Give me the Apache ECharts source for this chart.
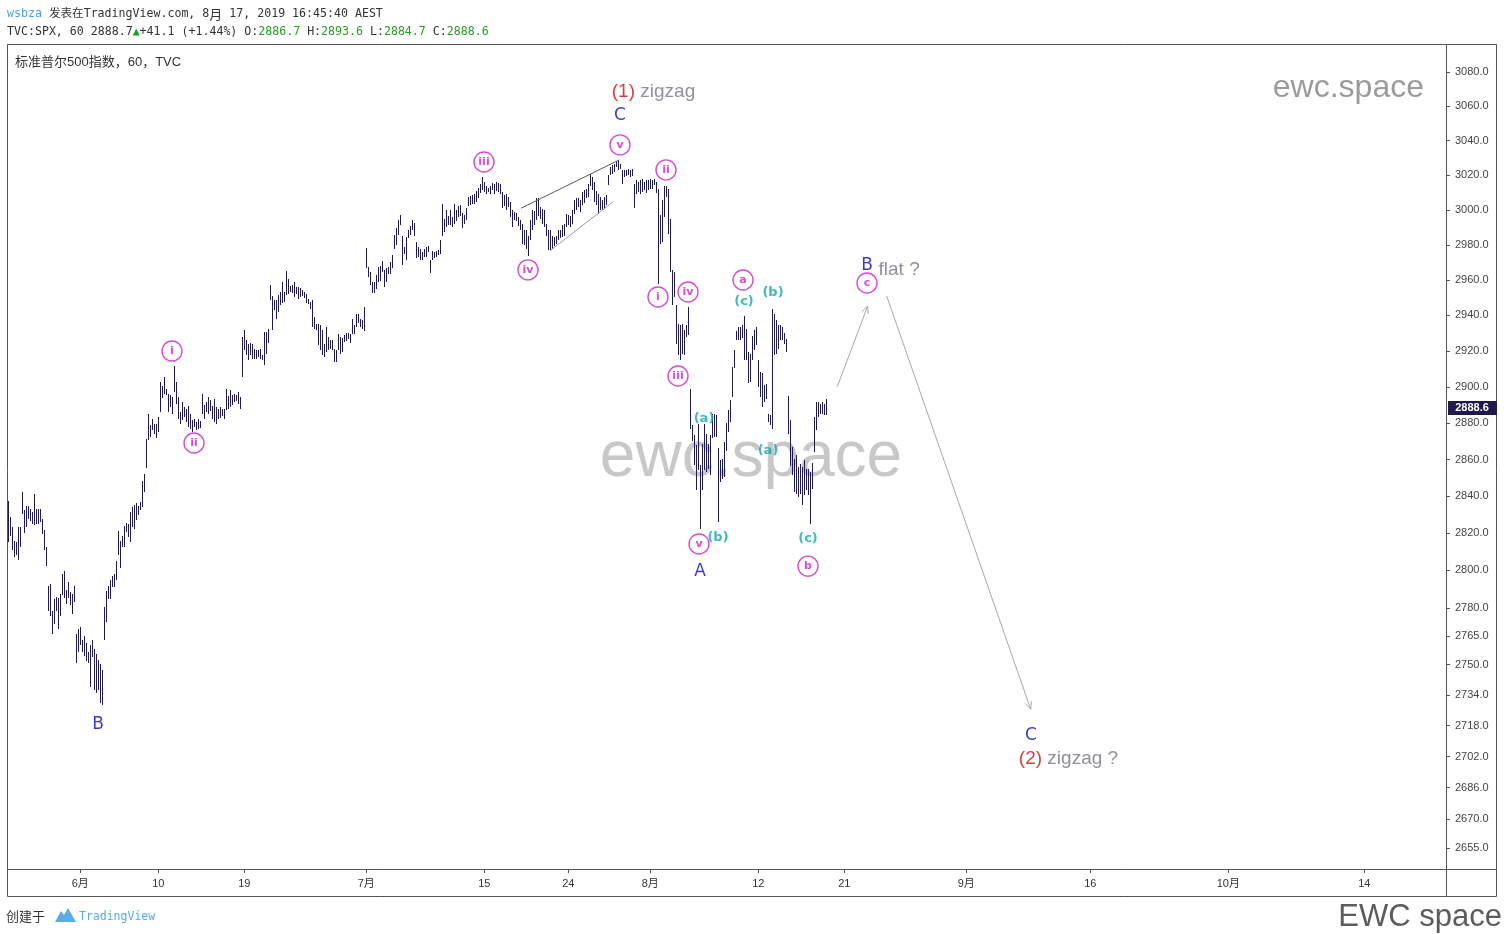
<!DOCTYPE html>
<html><head><meta charset="utf-8">
<script src="https://cdn.jsdelivr.net/npm/echarts@6/dist/echarts.min.js"></script>
<style>html,body{margin:0;padding:0;background:#fff;}#c{width:1504px;height:934px;}</style>
</head><body><div id="c"></div>
<script>
// ---- hourly S&P 500 bars (high / low), one per trading hour ----
const barHigh = [
2837.4,2828.8,2823.3,2815.8,2815.3,2823.3,2823.3,2842.1,2832.4,2834.6,
2834.6,2833.3,2831.5,2841.0,2833.3,2833.3,2833.3,2827.9,2821.5,2812.3,
2791.5,2792.5,2778.3,2784.9,2785.8,2785.4,2787.5,2798.2,2799.5,2789.3,
2793.6,2788.4,2787.2,2791.5,2766.3,2769.0,2769.8,2762.8,2764.9,2761.1,
2756.4,2760.2,2763.2,2758.4,2755.8,2752.6,2750.1,2747.0,2780.5,2788.9,
2791.5,2795.1,2796.8,2797.9,2805.0,2821.1,2815.8,2818.3,2823.7,2825.5,
2824.7,2831.5,2834.2,2835.1,2836.3,2834.6,2836.9,2848.3,2852.3,2871.5,
2885.3,2878.8,2882.5,2879.8,2879.8,2883.4,2902.8,2900.4,2905.6,2899.1,
2896.3,2895.4,2894.5,2911.5,2902.8,2894.5,2886.2,2891.7,2888.9,2888.0,
2889.3,2885.3,2881.6,2882.5,2880.7,2882.5,2881.2,2896.3,2889.9,2891.7,
2894.5,2892.6,2889.3,2893.5,2888.9,2888.0,2888.9,2888.0,2888.0,2899.1,
2894.8,2898.2,2895.4,2896.3,2895.4,2897.3,2894.5,2927.8,2931.6,2926.0,
2924.1,2924.5,2924.1,2921.3,2920.4,2920.8,2921.3,2917.6,2930.7,2930.7,
2932.6,2956.9,2950.8,2948.5,2948.5,2951.4,2953.2,2958.9,2953.2,2965.0,
2960.8,2956.4,2956.9,2958.9,2956.0,2956.0,2955.7,2954.2,2953.2,2951.9,
2949.4,2947.6,2948.5,2939.1,2935.3,2935.3,2934.4,2931.6,2924.1,2933.5,
2927.8,2926.0,2926.4,2921.3,2920.4,2929.3,2927.8,2927.5,2928.8,2930.1,
2930.1,2929.7,2938.2,2934.4,2941.0,2940.6,2938.2,2937.2,2944.7,2978.4,
2967.4,2964.6,2958.9,2958.9,2962.7,2967.4,2967.8,2970.6,2965.5,2966.5,
2967.4,2970.2,2974.0,2985.5,2989.3,2994.0,2996.8,2984.9,2979.0,2984.5,
2988.3,2990.6,2994.4,2992.5,2981.6,2979.0,2977.3,2976.0,2977.8,2979.0,
2979.3,2971.6,2976.5,2976.0,2976.5,2976.9,2982.6,3003.5,2995.0,2999.7,
2996.3,2999.7,2995.6,3003.1,2999.7,3002.0,3002.6,2998.2,2996.8,3001.3,
3007.4,3007.7,3008.3,3008.9,3010.8,3012.7,3015.1,3018.9,3016.0,3013.5,
3012.7,3013.9,3015.4,3015.1,3016.0,3015.4,3015.1,3010.3,3008.3,3008.9,
3007.4,3004.5,2999.7,2998.8,2998.2,2995.9,2994.0,2992.1,2988.3,2988.3,
2984.9,2994.0,2999.7,2999.3,3006.5,3006.5,3001.7,3000.7,3000.1,2992.1,
2988.7,2988.3,2984.9,2984.5,2984.9,2988.3,2988.7,2991.1,2991.7,2997.8,
2996.8,2996.3,2999.7,3005.5,3006.5,3006.5,3005.5,3010.3,3011.2,3012.2,
3015.1,3020.8,3018.9,3016.0,3010.8,3009.3,3007.4,3005.5,3007.4,3008.3,
3019.9,3024.6,3025.6,3026.6,3028.1,3028.9,3026.6,3022.8,3023.2,3023.2,
3023.7,3023.2,3023.7,3015.1,3017.4,3016.0,3017.0,3018.0,3016.0,3017.4,
3017.0,3018.0,3017.0,3018.0,3016.0,3012.2,2996.8,3005.5,3013.9,3013.5,
3012.2,2995.0,2965.5,2964.6,2945.7,2935.3,2934.4,2935.3,2931.6,2934.4,
2944.7,2899.1,2878.8,2873.3,2867.9,2879.8,2856.9,2868.8,2879.8,2874.3,
2868.8,2873.3,2885.3,2884.9,2884.3,2866.2,2859.6,2860.5,2869.7,2880.2,
2887.5,2892.6,2911.1,2920.8,2931.0,2933.5,2933.5,2934.4,2939.5,2932.6,
2919.4,2918.5,2928.2,2931.6,2933.5,2914.9,2908.4,2907.5,2900.9,2901.8,
2885.3,2884.3,2943.8,2941.0,2937.2,2934.4,2934.4,2933.5,2930.1,2927.0,
2894.8,2882.0,2866.9,2860.5,2862.4,2855.9,2857.4,2855.9,2859.6,2855.0,
2855.0,2853.2,2858.1,2883.4,2891.7,2891.7,2890.8,2891.7,2890.8,2893.6
];
const barLow = [
2815.3,2818.4,2810.8,2807.2,2808.1,2805.8,2812.6,2830.6,2820.1,2823.3,
2827.9,2826.6,2824.8,2824.3,2825.2,2824.8,2826.1,2819.7,2811.2,2802.2,
2778.3,2775.5,2766.0,2771.6,2778.3,2769.0,2775.5,2786.7,2785.4,2782.2,
2785.4,2781.3,2776.6,2783.1,2750.8,2756.6,2760.2,2756.6,2754.3,2751.8,
2750.8,2738.2,2753.9,2736.5,2735.1,2736.5,2729.8,2728.6,2762.8,2772.5,
2784.9,2784.9,2791.1,2791.1,2795.1,2808.1,2801.5,2812.3,2812.6,2820.6,
2818.0,2815.3,2823.3,2822.4,2827.0,2829.7,2832.4,2834.2,2842.3,2855.2,
2870.6,2872.3,2876.1,2874.3,2872.1,2875.2,2886.2,2894.1,2896.3,2895.4,
2886.2,2888.9,2885.3,2897.3,2890.8,2882.5,2879.4,2881.6,2883.4,2880.7,
2877.9,2877.0,2875.2,2877.9,2876.1,2877.0,2877.4,2884.9,2882.5,2886.2,
2885.3,2886.7,2882.5,2880.5,2879.8,2882.5,2883.0,2883.8,2882.5,2887.1,
2888.0,2888.9,2889.9,2891.7,2892.2,2890.8,2888.0,2905.6,2920.4,2917.6,
2914.9,2917.6,2915.8,2915.8,2915.8,2916.7,2915.8,2914.9,2912.1,2918.5,
2924.5,2948.5,2932.0,2942.9,2938.2,2941.9,2945.7,2947.0,2947.6,2951.4,
2952.3,2953.2,2952.7,2950.5,2952.3,2949.4,2950.5,2950.8,2950.0,2947.0,
2946.2,2943.8,2933.5,2932.6,2931.6,2923.2,2920.4,2917.6,2916.7,2919.4,
2920.4,2921.3,2920.4,2913.9,2913.9,2920.4,2918.5,2919.4,2925.1,2925.6,
2927.0,2924.5,2929.7,2929.7,2933.5,2935.7,2933.5,2932.6,2931.2,2966.5,
2961.7,2956.9,2952.7,2952.7,2955.1,2958.9,2959.4,2964.6,2956.0,2958.9,
2963.6,2963.6,2966.5,2977.8,2979.8,2985.5,2991.1,2968.4,2974.6,2971.6,
2983.6,2985.5,2988.3,2984.9,2972.2,2973.1,2971.6,2971.6,2973.1,2973.1,
2976.0,2963.9,2971.2,2972.2,2973.1,2974.0,2974.6,2984.9,2987.3,2990.2,
2991.1,2991.1,2990.2,2992.1,2993.6,2995.6,2996.3,2989.3,2992.1,2994.4,
3002.0,3002.6,3003.1,3003.5,3004.5,3006.5,3009.7,3011.2,3010.3,3009.3,
3010.3,3009.3,3011.6,3009.3,3010.8,3010.3,3009.3,3001.3,3002.0,2999.7,
3001.7,2995.6,2990.2,2994.4,2993.6,2990.6,2988.3,2980.7,2979.8,2977.3,
2973.5,2982.6,2988.7,2991.1,2994.0,2996.3,2995.0,2992.1,2990.2,2984.9,
2976.9,2976.9,2977.8,2979.3,2980.7,2982.6,2983.6,2984.5,2984.9,2990.2,
2991.1,2990.2,2992.1,2997.8,2999.7,3001.7,2998.8,3002.6,3004.0,3006.5,
3007.4,3013.5,3011.2,3004.5,3002.6,2997.8,2999.7,2999.7,3000.7,3002.6,
3014.1,3019.9,3020.8,3021.7,3024.6,3022.8,3023.7,3015.1,3018.9,3019.3,
3019.9,3018.9,3019.3,3001.3,3009.3,3010.3,3009.3,3010.3,3011.6,3009.7,
3011.6,3012.2,3012.2,3014.1,3009.7,2957.9,2980.7,2981.6,2995.9,3007.4,
2986.4,2964.6,2945.7,2950.5,2924.1,2917.6,2914.9,2918.1,2917.6,2927.8,
2928.8,2877.0,2870.0,2856.9,2843.2,2854.1,2822.4,2843.2,2854.1,2853.2,
2855.0,2851.4,2872.1,2872.4,2872.4,2826.1,2847.8,2849.6,2850.5,2864.7,
2875.2,2880.7,2894.5,2910.8,2926.0,2926.0,2926.0,2927.5,2914.9,2914.9,
2902.0,2902.8,2914.9,2920.8,2923.2,2900.1,2894.5,2888.9,2891.7,2893.5,
2880.7,2878.8,2877.0,2917.6,2918.5,2921.3,2926.0,2926.4,2924.1,2919.2,
2874.3,2856.3,2851.4,2842.3,2841.4,2839.6,2841.4,2835.1,2840.5,2843.2,
2840.5,2825.2,2844.2,2864.2,2876.1,2883.4,2885.3,2885.3,2884.3,2884.7
];
const lastClose = 2888.6;

// ---- axes ----
const priceTicks = [3080,3060,3040,3020,3000,2980,2960,2940,2920,2900,2880,2860,2840,2820,2800,2780,2765,2750,2734,2718,2702,2686,2670,2655];
const dateTickLabels = ['6月','10','19','7月','15','24','8月','12','21','9月','16','10月','14'];
const dateTickIndex = [36,75,118,179,238,280,321,375,418,479,541,610,678];

// ---- Elliott wave labels (bar index, price) ----
const circledText  = ['i','ii','iii','iv','v','i','ii','iii','iv','v','a','b','c'];
const circledIdx   = [81.85,92.85,237.85,259.85,305.85,324.85,328.85,334.85,339.85,345.35,367.35,399.85,429.35];
const circledPrice = [2920.0,2869.1,3027.6,2965.7,3037.5,2950.4,3023.0,2906.1,2953.2,2814.2,2960.0,2802.3,2958.3];

const minorText  = ['(a)','(b)','(c)','(b)','(a)','(c)'];
const minorIdx   = [347.85,354.85,367.85,382.35,379.85,399.85];
const minorPrice = [2882.3,2817.4,2947.6,2952.6,2864.7,2816.9];

const majorText  = ['B','C','A','B','C'];
const majorIdx   = [44.85,305.85,345.85,429.35,511.35];
const majorPrice = [2719.4,3055.5,2800.2,2969.1,2713.7];

const noteDegree = ['(1)','(2)',''];
const noteText   = ['zigzag','zigzag ?','flat ?'];
const noteIdx    = [323.1,530.6,445.9];
const notePrice  = [3069.0,2701.3,2966.2];

// ---- drawn lines [idx1, price1, idx2, price2] ----
const wedgeUpper = [256.35,3000.9,305.5,3028.8];
const wedgeLower = [270.85,2976.6,302.5,3004.7];
const arrowUp    = [414.5,2900.2,429.7,2945.3];
const arrowDown  = [439.2,2950.9,511.2,2726.6];

const LN = Math.log;
const chart = echarts.init(document.getElementById('c'), null, {renderer:'canvas'});

function tickLabelFor(v, vals, labels){
  let best = 0, bd = Infinity;
  vals.forEach((t,k)=>{ const d = Math.abs(t - v); if (d < bd){bd = d; best = k;} });
  return labels[best];
}
const lnTicks = priceTicks.map(LN);

function lineSeries(arr, color, arrow, width){
  return {
    type:'custom', coordinateSystem:'cartesian2d', silent:true, z:4,
    data:[[arr[0], LN(arr[1]), arr[2], LN(arr[3])]],
    encode:{x:[0,2], y:[1,3]},
    renderItem(params, api){
      const p1 = api.coord([api.value(0), api.value(1)]);
      const p2 = api.coord([api.value(2), api.value(3)]);
      const children = [{type:'line', shape:{x1:p1[0],y1:p1[1],x2:p2[0],y2:p2[1]}, style:{stroke:color, lineWidth:width}}];
      if (arrow){
        const ang = Math.atan2(p2[1]-p1[1], p2[0]-p1[0]);
        const L = 8, a = 0.42;
        [ang+Math.PI-a, ang+Math.PI+a].forEach(t=>{
          children.push({type:'line', shape:{x1:p2[0],y1:p2[1],x2:p2[0]+L*Math.cos(t),y2:p2[1]+L*Math.sin(t)}, style:{stroke:color, lineWidth:width}});
        });
      }
      return {type:'group', children};
    }
  };
}

const MONO = '"DejaVu Sans Mono", monospace';
const MONO_CJK = '"DejaVu Sans Mono", "Noto Sans CJK SC", monospace';

const option = {
  animation:false,
  backgroundColor:'#ffffff',
  grid:{left:7, top:44, width:1439, height:825, show:false, containLabel:false, outerBoundsMode:'none'},
  xAxis:{
    type:'value', min:-0.65, max:718.85,
    axisLine:{show:false, onZero:false}, splitLine:{show:false},
    axisTick:{show:true, customValues:dateTickIndex, length:4, lineStyle:{color:'#555'}},
    axisLabel:{customValues:dateTickIndex, formatter:v=>tickLabelFor(v, dateTickIndex, dateTickLabels),
      fontSize:11, color:'#333', margin:9, fontFamily:'Liberation Sans, Noto Sans CJK SC, sans-serif'}
  },
  yAxis:{
    type:'value', position:'right', min:LN(2644.5), max:LN(3096.7),
    axisLine:{show:false, onZero:false}, splitLine:{show:false},
    axisTick:{show:true, customValues:lnTicks, length:4, lineStyle:{color:'#555'}},
    axisLabel:{customValues:lnTicks, formatter:v=>tickLabelFor(v, lnTicks, priceTicks).toFixed(1),
      fontSize:11, color:'#444', margin:9, fontFamily:'Liberation Sans, sans-serif'}
  },
  series:[
    {
      type:'custom', coordinateSystem:'cartesian2d', silent:true, z:3,
      data: barHigh.map((h,i)=>[i, LN(barLow[i]), LN(h)]),
      encode:{x:0, y:[1,2]},
      renderItem(params, api){
        const lo = api.coord([api.value(0), api.value(1)]);
        const hi = api.coord([api.value(0), api.value(2)]);
        const px = Math.round(lo[0]);
        return {type:'rect', shape:{x:px, y:Math.round(hi[1]), width:1, height:Math.max(1, Math.round(lo[1]) - Math.round(hi[1]))}, style:{fill:'#1e1a4e'}};
      }
    },
    lineSeries(wedgeUpper, '#5a5a5a', false, 1),
    lineSeries(wedgeLower, '#9a9a9a', false, 1),
    lineSeries(arrowUp, '#a8a8a8', true, 1),
    lineSeries(arrowDown, '#a8a8a8', true, 1),
    {
      type:'scatter', silent:true, z:5,
      data: circledText.map((t,k)=>({name:t, value:[circledIdx[k], LN(circledPrice[k])]})),
      symbol:'circle', symbolSize:20,
      itemStyle:{color:'rgba(255,255,255,0)', borderColor:'#c81fc8', borderWidth:1.4},
      label:{show:true, position:'inside', formatter:p=>p.name, color:'#c81fc8', fontWeight:'bold', fontSize:11, fontFamily:'DejaVu Sans, sans-serif'}
    },
    {
      type:'scatter', silent:true, z:5,
      data: minorText.map((t,k)=>({name:t, value:[minorIdx[k], LN(minorPrice[k])]})),
      symbol:'circle', symbolSize:1, itemStyle:{color:'rgba(0,0,0,0)'},
      label:{show:true, position:'inside', formatter:p=>p.name, color:'#12a6ab', fontWeight:'bold', fontSize:13, fontFamily:'DejaVu Sans, sans-serif'}
    },
    {
      type:'scatter', silent:true, z:5,
      data: majorText.map((t,k)=>({name:t, value:[majorIdx[k], LN(majorPrice[k])]})),
      symbol:'circle', symbolSize:1, itemStyle:{color:'rgba(0,0,0,0)'},
      label:{show:true, position:'inside', offset:[0,2], formatter:p=>p.name, color:'#0a0aad', fontSize:17, fontFamily:'DejaVu Sans, sans-serif'}
    },
    {
      type:'scatter', silent:true, z:5,
      data: noteText.map((t,k)=>({name:t, value:[noteIdx[k], LN(notePrice[k])], deg:noteDegree[k]})),
      symbol:'circle', symbolSize:1, itemStyle:{color:'rgba(0,0,0,0)'},
      label:{show:true, position:'inside', offset:[-1,1],
        formatter:p=> (p.data.deg ? '{r|'+p.data.deg+'} ' : '') + '{g|'+p.name+'}',
        fontSize:19, fontFamily:'Liberation Sans, sans-serif',
        rich:{r:{color:'#c41010', fontSize:19, fontFamily:'Liberation Sans, sans-serif'}, g:{color:'#747480', fontSize:19, fontFamily:'Liberation Sans, sans-serif'}}}
    }
  ],
  graphic:[
    {type:'text', x:751, y:458, z:-10, silent:true, style:{text:'ewc.space', font:'64px "Liberation Sans", sans-serif', fill:'#c8c8c8', align:'center', verticalAlign:'middle', textAlign:'center', textVerticalAlign:'middle'}},
    {type:'text', x:1424, y:88, silent:true, style:{text:'ewc.space', font:'32px "Liberation Sans", sans-serif', fill:'#9b9b9b', align:'right', verticalAlign:'middle', textAlign:'right', textVerticalAlign:'middle'}},
    {type:'rect', silent:true, shape:{x:7.5, y:44.5, width:1489, height:852}, style:{fill:'rgba(0,0,0,0)', stroke:'#555', lineWidth:1}},
    {type:'line', silent:true, shape:{x1:1446.5, y1:44, x2:1446.5, y2:897}, style:{stroke:'#555', lineWidth:1}},
    {type:'line', silent:true, shape:{x1:7, y1:869.5, x2:1497, y2:869.5}, style:{stroke:'#555', lineWidth:1}},
    {type:'text', x:7, y:14, silent:true, style:{
      text:'{u|wsbza} {d|发表在}{d|TradingView.com, 8}{c|月}{d| 17, 2019 16:45:40 AEST}',
      font:'11.6px ' + MONO, verticalAlign:'middle', textVerticalAlign:'middle',
      rich:{u:{fill:'#4a9fe0', color:'#4a9fe0', font:'11.6px ' + MONO},
            d:{fill:'#333', color:'#333', font:'11.6px ' + MONO_CJK},
            c:{fill:'#333', color:'#333', font:'13px "Noto Sans CJK SC", sans-serif'}}}},
    {type:'text', x:7, y:32, silent:true, style:{
      text:'{d|TVC:SPX, 60 2888.7}{g|▲}{d|+41.1 (+1.44%) O:}{g|2886.7}{d| H:}{g|2893.6}{d| L:}{g|2884.7}{d| C:}{g|2888.6}',
      font:'11.6px ' + MONO, verticalAlign:'middle', textVerticalAlign:'middle',
      rich:{d:{fill:'#333', color:'#333', font:'11.6px ' + MONO}, g:{fill:'#22a022', color:'#22a022', font:'11.6px ' + MONO}}}},
    {type:'text', x:15, y:62, silent:true, style:{text:'标准普尔500指数，60，TVC', font:'13px "Liberation Sans", "Noto Sans CJK SC", sans-serif', fill:'#333', verticalAlign:'middle', textVerticalAlign:'middle'}},
    {type:'text', x:6, y:916, silent:true, style:{text:'创建于', font:'13px "Noto Sans CJK SC", sans-serif', fill:'#333', verticalAlign:'middle', textVerticalAlign:'middle'}},
    {type:'polygon', silent:true, shape:{points:[[55,922],[61,911],[64,915],[68,908],[76,922]]}, style:{fill:'#5aabe6'}},
    {type:'text', x:79, y:917, silent:true, style:{text:'TradingView', font:'11.5px ' + MONO, fill:'#5aabe6', verticalAlign:'middle', textVerticalAlign:'middle'}},
    {type:'text', x:1502, y:917, silent:true, style:{text:'EWC space', font:'31px "Liberation Sans", sans-serif', fill:'#5c5c5c', align:'right', verticalAlign:'middle', textAlign:'right', textVerticalAlign:'middle'}}
  ]
};
chart.setOption(option);

// last-price marker on the price scale
const py = chart.convertToPixel({gridIndex:0}, [0, LN(lastClose)])[1];
chart.setOption({graphic: option.graphic.concat([
  {type:'rect', z:100, silent:true, shape:{x:1448, y:Math.round(py)-7, width:49, height:14}, style:{fill:'#1e1a4e'}},
  {type:'text', z:101, x:1472, y:Math.round(py), silent:true, style:{text:lastClose.toFixed(1), font:'bold 11px "Liberation Sans", sans-serif', fill:'#fff', align:'center', verticalAlign:'middle', textAlign:'center', textVerticalAlign:'middle'}}
])});
</script>
</body></html>
